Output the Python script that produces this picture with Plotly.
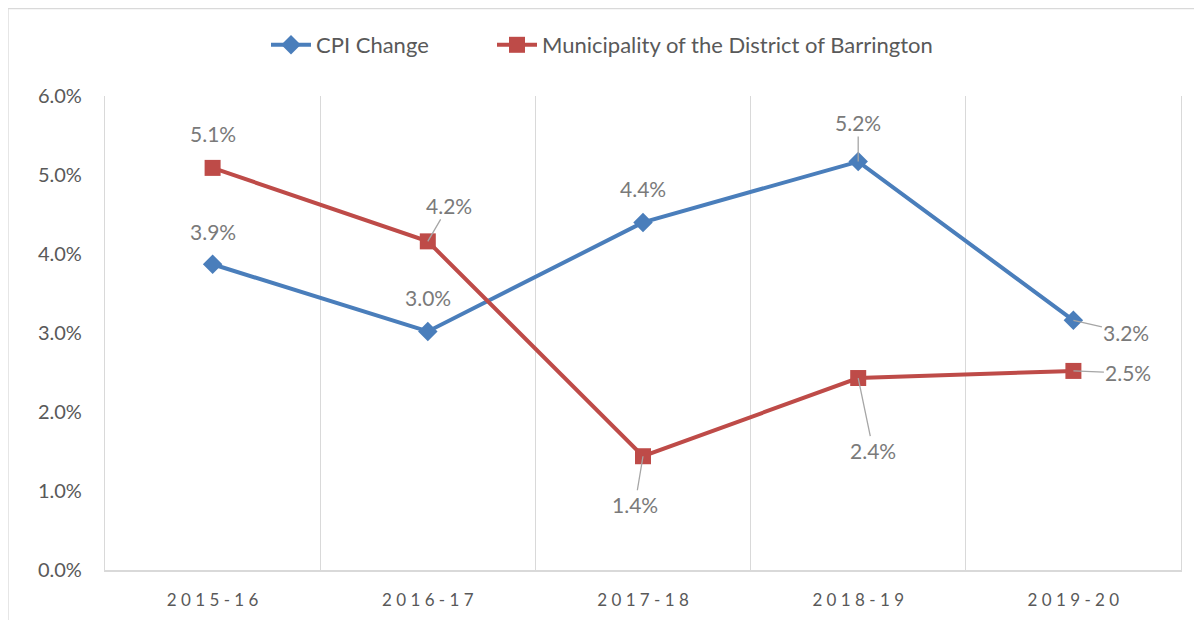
import plotly.graph_objects as go

categories = ["2015-16", "2016-17", "2017-18", "2018-19", "2019-20"]
cpi_change = [3.87, 3.02, 4.40, 5.17, 3.16]
barrington = [5.09, 4.16, 1.44, 2.43, 2.52]
y_ticks = [0, 1, 2, 3, 4, 5, 6]

W, H = 1202, 620
L, R, T, B = 97, 29, 88, 58
FONT = "Lato, Carlito, Calibri, sans-serif"
BLUE = "#4A7EBB"
RED = "#BE4B48"
GRID = "#D9D9D9"
LABEL = "#7A7A7A"
AXIS_TXT = "#595959"

fig = go.Figure()
fig.add_trace(go.Scatter(
    x=categories, y=cpi_change, name="CPI Change", mode="lines+markers",
    line=dict(color=BLUE, width=4),
    marker=dict(symbol="diamond", size=15, color=BLUE),
    legend="legend",
))
fig.add_trace(go.Scatter(
    x=categories, y=barrington, name="Municipality of the District of Barrington",
    mode="lines+markers",
    line=dict(color=RED, width=4),
    marker=dict(symbol="square", size=16, color=RED),
    legend="legend2",
))

# data label offsets (pixels: dx, dy) and whether they use a leader line
cpi_label_pos = [(0, -33, False), (0, -34, False), (0, -34, False), (0, -39, True), (53, 12, True)]
bar_label_pos = [(0, -34, False), (21, -36, True), (-8, 48, True), (15, 72, True), (55, 2, True)]

annotations = []
for series, pos in ((cpi_change, cpi_label_pos), (barrington, bar_label_pos)):
    for cat, val, (dx, dy, leader) in zip(categories, series, pos):
        txt = f"{val:.1f}%"
        if leader:
            annotations.append(dict(
                x=cat, y=val, text=txt, showarrow=True, arrowhead=0,
                arrowwidth=1.3, arrowcolor="#A6A6A6", ax=dx, ay=dy,
                font=dict(family=FONT, size=21, color=LABEL), standoff=0,
            ))
        else:
            annotations.append(dict(
                x=cat, y=val, text=txt, showarrow=False,
                xshift=dx, yshift=-dy,
                font=dict(family=FONT, size=21, color=LABEL),
            ))

pw = W - L - R
ph = H - T - B
legend_common = dict(orientation="h", xref="container", xanchor="left",
                     y=1 - 37 / H, yref="container", yanchor="middle",
                     font=dict(family=FONT, size=22, color=AXIS_TXT),
                     itemwidth=40, bgcolor="rgba(0,0,0,0)")
fig.update_layout(
    width=W, height=H,
    margin=dict(l=L, r=R, t=T, b=B, autoexpand=False),
    paper_bgcolor="white", plot_bgcolor="white",
    font=dict(family=FONT, size=21, color=AXIS_TXT),
    showlegend=True,
    legend=dict(x=258 / W, **legend_common),
    legend2=dict(x=484 / W, **legend_common),
    annotations=annotations,
    shapes=[dict(type="rect", xref="paper", yref="paper",
                 x0=-L / pw, x1=(W + 5 - L) / pw,
                 y0=-(H + 5 - T - ph) / ph, y1=(T - 0.5 + ph) / ph,
                 line=dict(color=GRID, width=1.3), layer="below")],
)
fig.update_xaxes(
    type="category", categoryorder="array", categoryarray=categories,
    tickvals=categories,
    ticktext=[" ".join(c) for c in categories],
    tickfont=dict(family=FONT, size=17, color=AXIS_TXT),
    showgrid=True, gridcolor=GRID, gridwidth=1.3, tickson="boundaries",
    ticks="", showline=True, linecolor=GRID, linewidth=1.5,
    range=[-0.5, 4.5], ticklabelstandoff=14, fixedrange=True, automargin=False,
)
fig.update_yaxes(
    range=[0, 6], tickvals=y_ticks, ticktext=[f"{v:.1f}%" for v in y_ticks],
    tickfont=dict(family=FONT, size=20, color=AXIS_TXT),
    showgrid=False, zeroline=False,
    showline=True, linecolor=GRID, linewidth=1.3, mirror=True,
    ticks="", ticklabelstandoff=18, fixedrange=True, automargin=False,
)

fig.write_html("out.html")
